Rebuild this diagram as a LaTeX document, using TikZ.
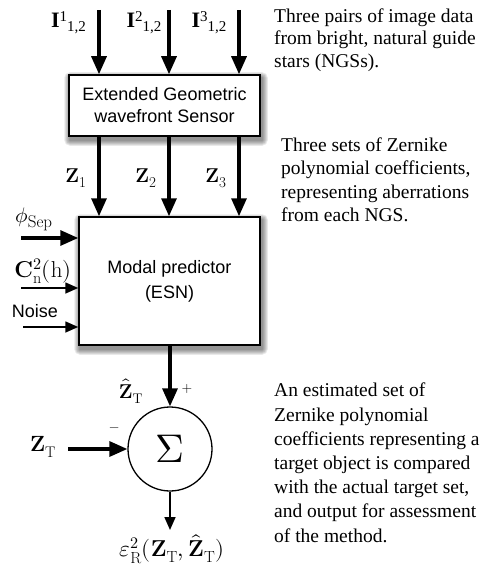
\documentclass[tikz,border=0pt]{standalone}
\usepackage{fontspec}
\usepackage{unicode-math}
\newfontfamily\sansA{Liberation Sans}
\newfontfamily\serifT{Liberation Serif}
\usetikzlibrary{arrows.meta,calc,backgrounds}
\newcommand{\mysub}[2][14]{\mbox{\fontsize{#1}{#1}\selectfont #2}}
\newcommand{\ilab}[1]{{\serifT\fontsize{22}{22}\selectfont\textbf{I}\raisebox{6pt}{\fontsize{15}{15}\selectfont #1}\raisebox{-4pt}{\fontsize{15}{15}\selectfont 1,2}}}
\begin{document}
\begin{tikzpicture}[x=1pt,y=-1pt,
  thickarrow/.style={line width=3.2pt,-{Triangle[width=15pt,length=18pt]}},
  thinarrow/.style={line width=1.6pt,-{Triangle[width=11pt,length=13pt]}},
  blockbox/.style={draw,line width=1.5pt,fill=white,inner sep=0pt,align=center},
  shadowlayer/.style={fill=black,opacity=0.085},
  mlabel/.style={inner sep=0pt,font=\fontsize{20}{22}\selectfont},
  note/.style={anchor=north west,inner sep=0pt,align=left}]
\useasboundingbox (0,0) rectangle (490,567);

% blocks
\node[blockbox,minimum width=191pt,minimum height=61pt,font=\sansA\fontsize{18}{22}\selectfont] (egs) at (164.5,105.5) {Extended Geometric\\wavefront Sensor};
\node[blockbox,minimum width=181pt,minimum height=128pt,font=\sansA\fontsize{18}{25}\selectfont] (esn) at (169.5,281) {Modal predictor\\(ESN)};
\node[draw,circle,line width=1.3pt,minimum size=84pt,inner sep=0pt,font=\fontsize{40}{40}\selectfont] (sum) at (170,449) {$\Sigma$};

% soft shadows behind the two blocks
\begin{scope}[on background layer]
\foreach \n in {egs,esn}{
  \foreach \r in {0.5,1.5,2.5,3.5,4.5,5.5}{
    \fill[shadowlayer,rounded corners=\r pt] ($(\n.north west)+(1.5-\r,3.5-\r)$) rectangle ($(\n.south east)+(1.5+\r,3.5+\r)$);
  }
}
\end{scope}

% top inputs
\coordinate (i1) at (99,10);
\coordinate (i2) at (169,10);
\coordinate (i3) at (239,10);
\draw[thickarrow] (i1) -- (i1 |- egs.north);
\draw[thickarrow] (i2) -- (i2 |- egs.north);
\draw[thickarrow] (i3) -- (i3 |- egs.north);
\node[inner sep=0pt,anchor=base] (li1) at (68.5,28) {\ilab{1}};
\node[inner sep=0pt,anchor=base] (li2) at (144,28) {\ilab{2}};
\node[inner sep=0pt,anchor=base] (li3) at (209,28) {\ilab{3}};

% Zernike sets
\draw[thickarrow] (i1 |- egs.south) -- (i1 |- esn.north);
\draw[thickarrow] (i2 |- egs.south) -- (i2 |- esn.north);
\draw[thickarrow] (i3 |- egs.south) -- (i3 |- esn.north);
\node[mlabel] (lz1) at (76,178) {$\mathbf{Z}_{\mysub[15]{1}}$};
\node[mlabel] (lz2) at (146,178) {$\mathbf{Z}_{\mysub[15]{2}}$};
\node[mlabel] (lz3) at (216,178) {$\mathbf{Z}_{\mysub[15]{3}}$};

% left inputs
\coordinate (p1) at (21,238);
\coordinate (p2) at (21,288);
\coordinate (p3) at (23,327);
\draw[thickarrow] (p1) -- (p1 -| esn.west);
\draw[thinarrow] (p2) -- (p2 -| esn.west);
\draw[thinarrow] (p3) -- (p3 -| esn.west);
\node[inner sep=0pt,font=\fontsize{21}{22}\selectfont] (lphi) at (34,219) {$\phi_{\mysub[17]{Sep}}$};
\node[inner sep=0pt,font=\fontsize{23}{24}\selectfont] (lc) at (43,271) {$\mathbf{C}_{\mathrm{n}}^{2}(\mathrm{h})$};
\node[inner sep=0pt,font=\sansA\fontsize{18}{22}\selectfont] (lnoise) at (35,311) {Noise};

% summation
\draw[thickarrow] (esn.south -| sum.north) -- (sum.north);
\coordinate (zt) at (68,449);
\draw[thickarrow] (zt) -- (sum.west);
\coordinate (out) at (170,530);
\draw[thinarrow] (sum.south) -- (out);
\node[inner sep=0pt,font=\fontsize{20}{22}\selectfont] (lzh) at (131,391) {$\hat{\mathbf{Z}}_{\mathrm{T}}$};
\node[inner sep=0pt,font=\sffamily\fontsize{14}{14}\selectfont] (lplus) at (187,389) {+};
\node[inner sep=0pt,font=\fontsize{13}{13}\selectfont] (lminus) at (115,430) {$-$};
\node[inner sep=0pt,font=\fontsize{22}{22}\selectfont] (lzt) at (43,447) {$\mathbf{Z}_{\mathrm{T}}$};
\node[inner sep=0pt,font=\fontsize{23}{23}\selectfont] (leps) at (172,549) {$\varepsilon^{2}_{\mathrm{R}}(\mathbf{Z}_{\mathrm{T}},\hat{\mathbf{Z}}_{\mathrm{T}})$};

% notes
\node[note,font=\serifT\fontsize{19.5}{22.5}\selectfont] (n1) at (274,8.5) {Three pairs of image data\\from bright, natural guide\\stars (NGSs).};
\node[note,font=\serifT\fontsize{19.5}{23.4}\selectfont] (n2) at (281,137.5) {Three sets of Zernike\\polynomial coefficients,\\representing aberrations\\from each NGS.};
\node[note,font=\serifT\fontsize{19.5}{24.2}\selectfont] (n3) at (274,383) {An estimated set of\\Zernike polynomial\\coefficients representing a\\target object is compared\\with the actual target set,\\and output for assessment\\of the method.};
\end{tikzpicture}
\end{document}
